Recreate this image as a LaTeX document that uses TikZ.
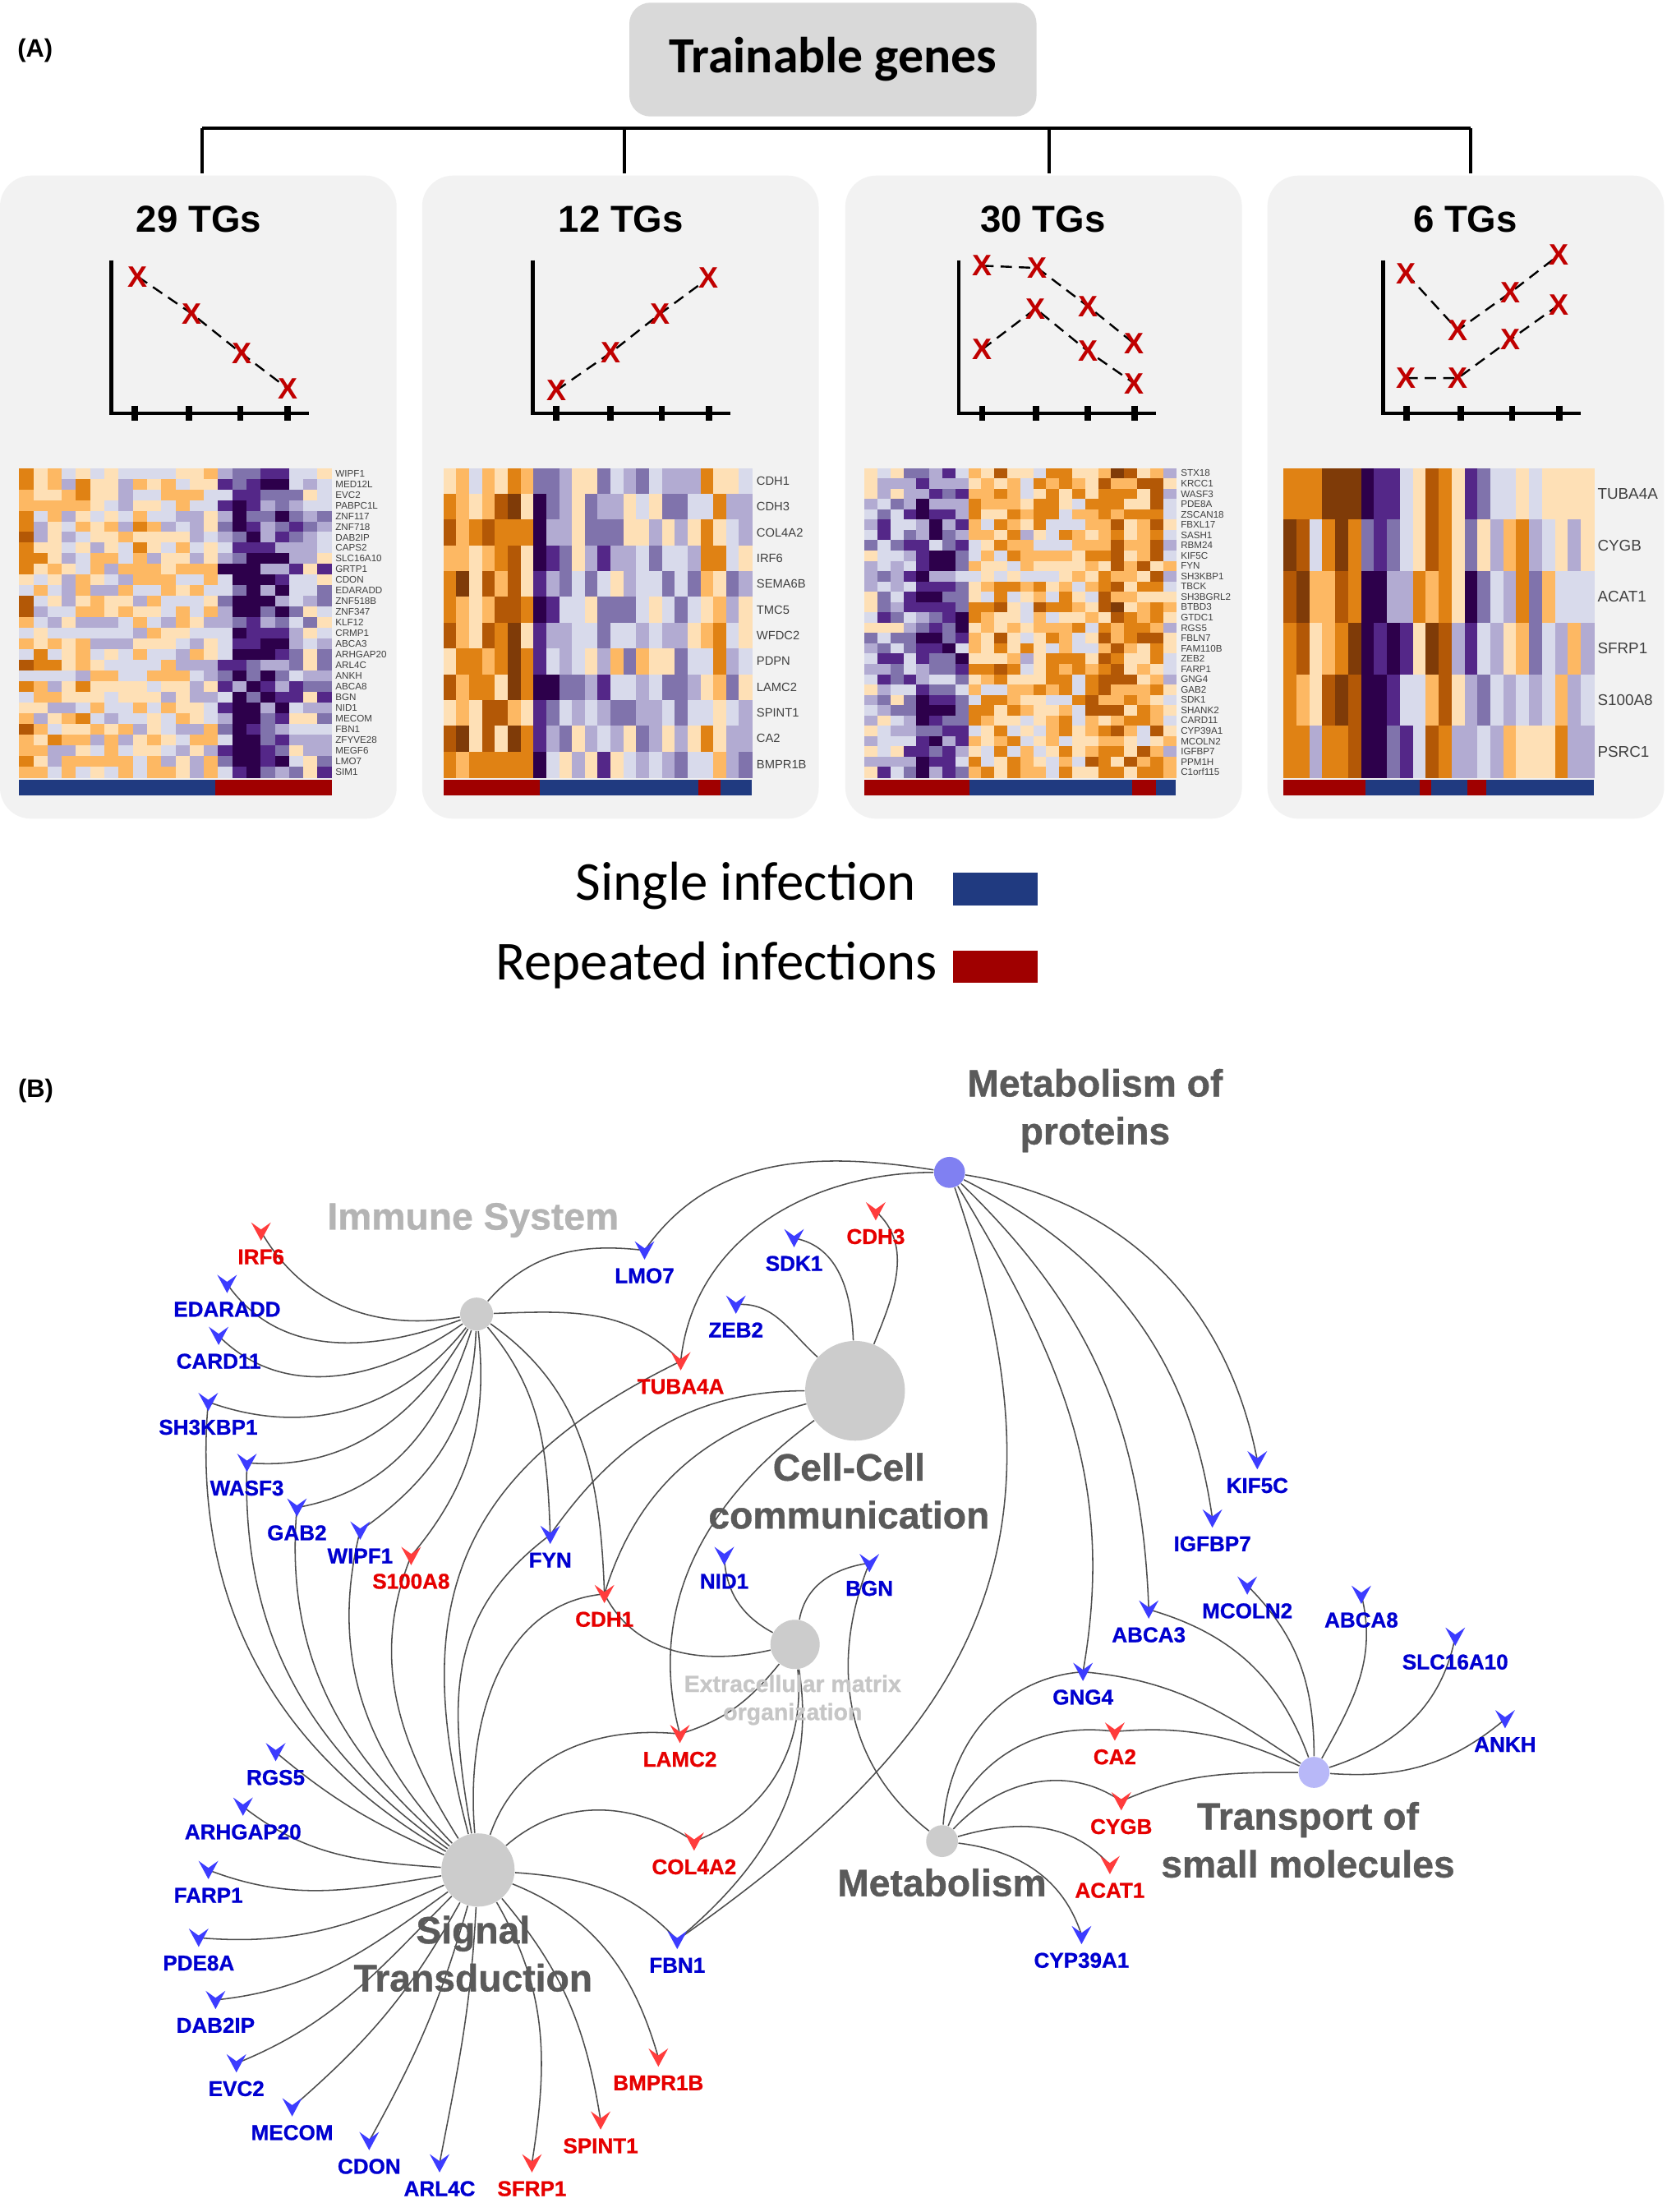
\documentclass[tikz,border=0pt]{standalone}
\usepackage{fontspec}
\setmainfont{Liberation Sans}
\newfontfamily\calfont{Carlito}
\newfontfamily\heavyfont{Liberation Sans}[BoldFeatures={FakeBold=0.8}]
\usetikzlibrary{calc}
\definecolor{hm0}{HTML}{2D004B}
\definecolor{hm1}{HTML}{542788}
\definecolor{hm2}{HTML}{8073AC}
\definecolor{hm3}{HTML}{B2ABD2}
\definecolor{hm4}{HTML}{D8DAEB}
\definecolor{hm5}{HTML}{FEE0B6}
\definecolor{hm6}{HTML}{FDB863}
\definecolor{hm7}{HTML}{E08214}
\definecolor{hm8}{HTML}{B35806}
\definecolor{hm9}{HTML}{7F3B08}
\definecolor{panelgrey}{HTML}{F2F2F2}
\definecolor{titlegrey}{HTML}{D9D9D9}
\definecolor{barblue}{HTML}{203A80}
\definecolor{barred}{HTML}{A00000}
\definecolor{xred}{HTML}{C00000}
\definecolor{hmtext}{HTML}{404040}
\definecolor{edgegrey}{HTML}{4D4D4D}
\definecolor{hubgrey}{HTML}{CCCCCC}
\definecolor{hubblue}{HTML}{8080F2}
\definecolor{hublblue}{HTML}{B8B8F8}
\definecolor{hubtext}{HTML}{5A5A5A}
\definecolor{hublight}{HTML}{B4B4B4}
\definecolor{ecmtext}{HTML}{C6C6C6}
\definecolor{chevb}{HTML}{3C3CFF}
\definecolor{chevr}{HTML}{FF3C3C}
\definecolor{gtb}{HTML}{0000D0}
\definecolor{gtr}{HTML}{E60000}

\tikzset{
  panelbg/.style={fill=panelgrey, rounded corners=11pt},
  titlebox/.style={fill=titlegrey, rounded corners=7.5pt, minimum width=144.6pt, minimum height=40.4pt, inner sep=0pt, font=\calfont\fontsize{18}{20}\selectfont\bfseries},
  plabel/.style={font=\fontsize{9}{10}\selectfont\bfseries, inner sep=0pt},
  bracket/.style={draw=black, line width=1.1pt},
  axisline/.style={draw=black, line width=1.4pt},
  tickm/.style={draw=black, line width=2.2pt},
  xm/.style={text=xred, font=\fontsize{10.5}{10.5}\selectfont\bfseries, inner sep=0pt},
  dline/.style={draw=black, line width=0.7pt, dash pattern=on 4pt off 2.5pt},
  tgtitle/.style={font=\fontsize{13.3}{14}\selectfont\bfseries, inner sep=0pt},
  hmlA/.style={font=\fontsize{3.4}{4}\selectfont, text=hmtext, inner sep=0pt, anchor=west},
  hmlB/.style={font=\fontsize{4.3}{5}\selectfont, text=hmtext, inner sep=0pt, anchor=west},
  hmlC/.style={font=\fontsize{5.5}{6}\selectfont, text=hmtext, inner sep=0pt, anchor=west},
  legtext/.style={font=\calfont\fontsize{19.5}{22}\selectfont, inner sep=0pt},
  legbox/.style={minimum width=30pt, minimum height=11.5pt, inner sep=0pt},
  hub/.style={circle, inner sep=0pt, draw=none},
  conn/.style={draw=edgegrey, line width=0.45pt},
  glabel/.style={font=\heavyfont\fontsize{7.6}{9}\selectfont\bfseries, inner sep=0pt},
  hubdark/.style={font=\heavyfont\fontsize{13.5}{17}\selectfont\bfseries, text=hubtext, align=center, inner sep=0pt},
  hubpale/.style={font=\heavyfont\fontsize{13.5}{15}\selectfont\bfseries, text=hublight, inner sep=0pt},
  ecmlabel/.style={font=\heavyfont\fontsize{8.3}{10}\selectfont\bfseries, text=ecmtext, align=center, inner sep=0pt}
}

\newcommand\hmap[7]{%
  \pgfmathsetseed{#6}%
  \foreach \rr in {1,...,#5}{%
    \foreach \bb [count=\cc from 0] in {#7}{%
      \pgfmathsetmacro\vv{\bb+0.38*rand}%
      \pgfmathtruncatemacro\kk{max(0,min(9,floor((\vv+1)*5)))}%
      \fill[hm\kk] ({#1+\cc*#3},{-(#2)-(\rr-1)*#4}) rectangle ++({#3+0.35},{-#4-0.35});%
    }%
  }%
}

\def\genelist{IRF6/185.4/874.6/r, EDARADD/161.3/911.8/b, CARD11/155.3/948.7/b,
 SH3KBP1/147.9/995.6/b, WASF3/175.4/1038.8/b, GAB2/210.9/1070.6/b, WIPF1/255.8/1087/b,
 S100A8/292/1105/r, FYN/390.8/1090/b, CDH1/429.3/1132/r, TUBA4A/483.5/966.7/r,
 LMO7/457.8/888/b, SDK1/564/879.3/b, ZEB2/522.7/926.5/b, CDH3/622/860.2/r,
 NID1/514.4/1105/b, BGN/617.5/1110/b, LAMC2/482.9/1231.4/r, COL4A2/493/1307.8/r,
 RGS5/195.8/1244.3/b, ARHGAP20/172.6/1283/b, FARP1/148/1328/b, PDE8A/141.1/1376.1/b,
 DAB2IP/153.1/1420.3/b, EVC2/167.9/1465.3/b, MECOM/207.5/1496.5/b, CDON/262.2/1520.5/b,
 ARL4C/312.2/1536.3/b, SFRP1/377.8/1536.3/r, SPINT1/426.6/1505.9/r, BMPR1B/467.6/1461.2/r,
 FBN1/481/1377.7/b, KIF5C/893/1037/b, IGFBP7/861.1/1078.4/b, ABCA3/815.9/1143/b,
 MCOLN2/885.9/1126/b, ABCA8/966.9/1132.5/b, GNG4/769.2/1187.3/b, CA2/791.8/1229.7/r,
 CYGB/796.4/1279.2/r, ACAT1/788.3/1324.5/r, SLC16A10/1033.6/1162.3/b, ANKH/1069/1220.9/b,
 CYP39A1/768.2/1374.2/b}

\begin{document}
\begin{tikzpicture}[x=0.5pt,y=0.5pt]
\useasboundingbox (0,0) rectangle (1184,-1570.9);
\fill[white] (0,0) rectangle (1184,-1570.9);

% ---------------- Panel A ----------------
\node[plabel] (labA) at (25,-36) {(A)};
\node[titlebox] (title) at (591.6,-42.3) {Trainable genes};

\foreach \px [count=\pi] in {0,299.8,600.4,900.2}{
  \fill[panelbg] (\px,-124.7) rectangle ++(281.7,-456.7);
}
\coordinate (b1) at (143.5,-91.2);
\coordinate (b4) at (1044.4,-91.2);
\foreach \bx [count=\bi] in {143.5,443.3,745.4,1044.4}{
  \coordinate (bt\bi) at (\bx,-91.2);
  \coordinate (bb\bi) at (\bx,-123);
  \draw[bracket] (bt\bi) -- (bb\bi);
}
\draw[bracket] (b1) -- (b4);

\node[tgtitle] (tg1) at (141.2,-155.6) {29 TGs};
\node[tgtitle] (tg2) at (441,-155.6) {12 TGs};
\node[tgtitle] (tg3) at (740.9,-155.6) {30 TGs};
\node[tgtitle] (tg4) at (1040.7,-155.6) {6 TGs};

% axes
\foreach \ax in {79.3,378.5,681,982.6}{
  \draw[axisline] (\ax,-184.8) -- (\ax,-293.5) -- (\ax+140,-293.5);
  \foreach \tx in {16.5,55,91.5,125}{
    \draw[tickm] (\ax+\tx,-288) -- (\ax+\tx,-298.5);
  }
}

% X marks (positions) and dashed lines
\coordinate (a1) at (97.9,-196.5);
\coordinate (a2) at (136.2,-222.7);
\coordinate (a3) at (171.6,-251);
\coordinate (a4) at (204.7,-276.2);
\coordinate (c1) at (395.3,-277.2);
\coordinate (c2) at (433.6,-250.6);
\coordinate (c3) at (469,-222.7);
\coordinate (c4) at (503.2,-197.5);
\coordinate (d1) at (697.7,-188.7);
\coordinate (d2) at (736.8,-190.3);
\coordinate (d3) at (772.7,-217.5);
\coordinate (d4) at (805.7,-244.1);
\coordinate (e1) at (697.7,-248);
\coordinate (e2) at (735.6,-219.2);
\coordinate (e3) at (772.7,-249.4);
\coordinate (e4) at (805.7,-272.3);
\coordinate (f1) at (999,-194.5);
\coordinate (f2) at (1035.5,-234.4);
\coordinate (f3) at (1072.7,-207.8);
\coordinate (f4) at (1107.5,-180.9);
\coordinate (g1) at (999,-268.5);
\coordinate (g2) at (1035.5,-268.5);
\coordinate (g3) at (1072.7,-241.2);
\coordinate (g4) at (1107.5,-216.3);
\foreach \s in {a,c,d,e,f,g}{
  \draw[dline] (\s1) -- (\s2) -- (\s3) -- (\s4);
}
\foreach \s in {a,c,d,e,f,g}{\foreach \k in {1,2,3,4}{\node[xm] (x\s\k) at (\s\k) {X};}}

% heatmaps
\hmap{13.6}{332.4}{10.09}{7.572}{29}{11}{0.25,0.12,0.05,0.02,0.1,-0.02,0.02,0.05,0.1,0.02,0.05,0.02,-0.03,0.02,-0.45,-0.75,-0.8,-0.6,-0.55,-0.3,-0.2,-0.3}
\hmap{315}{332.4}{9.125}{18.3}{12}{23}{0.4,0.55,0.35,0.5,0.45,0.6,0.4,-0.9,-0.45,-0.35,-0.2,-0.25,-0.4,-0.15,-0.2,-0.15,-0.1,-0.2,-0.3,-0.15,0.25,0.2,-0.1,-0.15}
\hmap{614}{332.4}{9.22}{7.32}{30}{37}{-0.2,-0.3,-0.25,-0.4,-0.6,-0.55,-0.5,-0.45,0.22,0.18,0.28,0.22,0.12,0.28,0.18,0.22,0.18,0.25,0.45,0.5,0.4,0.35,0.4,0.0}
\hmap{911.5}{332.4}{9.19}{36.6}{6}{41}{0.7,0.45,0.15,0.5,0.8,0.7,-0.85,-0.9,-0.7,-0.3,0.15,0.45,0.5,-0.15,-0.5,-0.2,-0.1,0.1,0.25,-0.2,-0.15,0.1,-0.15,-0.2}

% colour bars
\fill[barblue] (13.6,-553.5) rectangle (152.6,-564.6);
\fill[barred] (152.6,-553.5) rectangle (235.6,-564.6);
\fill[barred] (315,-553.5) rectangle (383.6,-564.6);
\fill[barblue] (383.6,-553.5) rectangle (496.2,-564.6);
\fill[barred] (496.2,-553.5) rectangle (512,-564.6);
\fill[barblue] (512,-553.5) rectangle (534,-564.6);
\fill[barred] (614,-553.5) rectangle (688.7,-564.6);
\fill[barblue] (688.7,-553.5) rectangle (804.3,-564.6);
\fill[barred] (804.3,-553.5) rectangle (821,-564.6);
\fill[barblue] (821,-553.5) rectangle (835.3,-564.6);
\fill[barred] (911.5,-553.5) rectangle (969.7,-564.6);
\fill[barblue] (969.7,-553.5) rectangle (1008.2,-564.6);
\fill[barred] (1008.2,-553.5) rectangle (1016.5,-564.6);
\fill[barblue] (1016.5,-553.5) rectangle (1042.2,-564.6);
\fill[barred] (1042.2,-553.5) rectangle (1055.8,-564.6);
\fill[barblue] (1055.8,-553.5) rectangle (1132,-564.6);

% heatmap row labels
\foreach \g [count=\i from 0] in {WIPF1,MED12L,EVC2,PABPC1L,ZNF117,ZNF718,DAB2IP,CAPS2,SLC16A10,GRTP1,CDON,EDARADD,ZNF518B,ZNF347,KLF12,CRMP1,ABCA3,ARHGAP20,ARL4C,ANKH,ABCA8,BGN,NID1,MECOM,FBN1,ZFYVE28,MEGF6,LMO7,SIM1}{
  \node[hmlA] (hA\i) at (237.9,{-332.4-7.572*(\i+0.5)}) {\g};
}
\foreach \g [count=\i from 0] in {CDH1,CDH3,COL4A2,IRF6,SEMA6B,TMC5,WFDC2,PDPN,LAMC2,SPINT1,CA2,BMPR1B}{
  \node[hmlB] (hB\i) at (537,{-332.4-18.3*(\i+0.5)}) {\g};
}
\foreach \g [count=\i from 0] in {STX18,KRCC1,WASF3,PDE8A,ZSCAN18,FBXL17,SASH1,RBM24,KIF5C,FYN,SH3KBP1,TBCK,SH3BGRL2,BTBD3,GTDC1,RGS5,FBLN7,FAM110B,ZEB2,FARP1,GNG4,GAB2,SDK1,SHANK2,CARD11,CYP39A1,MCOLN2,IGFBP7,PPM1H,C1orf115}{
  \node[hmlA] (hC\i) at (838.3,{-332.4-7.32*(\i+0.5)}) {\g};
}
\foreach \g [count=\i from 0] in {TUBA4A,CYGB,ACAT1,SFRP1,S100A8,PSRC1}{
  \node[hmlC] (hD\i) at (1134.3,{-332.4-36.6*(\i+0.5)}) {\g};
}

% legend
\node[legtext, anchor=base east] (lsingle) at (651,-639) {Single infection};
\node[legbox, fill=barblue] (lbblue) at (707,-631.5) {};
\node[legtext, anchor=base east] (lrep) at (666,-696) {Repeated infections};
\node[legbox, fill=barred] (lbred) at (707,-686.5) {};

% ---------------- Panel B ----------------
\node[plabel] (labB) at (25.4,-774.4) {(B)};

% hubs
\node[hub, fill=hubgrey, minimum size=11.7pt] (nI) at (338.5,-933.2) {};
\node[hub, fill=hubgrey, minimum size=35.4pt] (nC) at (607.3,-987.7) {};
\node[hub, fill=hubgrey, minimum size=17.5pt] (nE) at (564.7,-1167.8) {};
\node[hub, fill=hubgrey, minimum size=26pt] (nS) at (339.5,-1328) {};
\node[hub, fill=hubgrey, minimum size=11.3pt] (nM) at (669.1,-1307.5) {};
\node[hub, fill=hubblue, minimum size=11pt] (nP) at (674.4,-832.6) {};
\node[hub, fill=hublblue, minimum size=11pt] (nT) at (933.3,-1258.7) {};

% gene coordinates
\foreach \gn/\gx/\gy/\gc in \genelist { \coordinate (\gn) at (\gx,-\gy); }

% connectors
\foreach \hh/\gg/\oo/\ii/\ll in {
 I/IRF6/190/-60/1, I/EDARADD/200/-55/1, I/CARD11/215/-45/1, I/SH3KBP1/232/-20/1,
 I/WASF3/240/-5/1, I/GAB2/252/10/1, I/WIPF1/268/35/1, I/S100A8/276/50/1,
 I/FYN/-50/92/1, I/CDH1/-35/92/1, I/TUBA4A/2/134/1, I/LMO7/49/173/1,
 C/ZEB2/138/5/1, C/SDK1/92/-10/1, C/CDH3/68/-42/1, C/FYN/180/55/1, C/CDH1/195/73/1, C/LAMC2/216/105/1,
 E/NID1/152/-88/1, E/BGN/80/188/1, E/CDH1/193/-63/1, E/LAMC2/231/17/1, E/COL4A2/-84/21/1, E/FBN1/-81/40/1,
 P/LMO7/171/55/1, P/TUBA4A/180/84/1, P/KIF5C/-9/101/1, P/IGFBP7/-27/98/1, P/ABCA3/-44/92/1,
 P/GNG4/-59/80/1, P/FBN1/-71/35/1.2,
 M/BGN/142/248/1, M/GNG4/86/184/1, M/CA2/68/172/1, M/CYGB/47/145/1, M/ACAT1/16/132/1, M/CYP39A1/-7/108/1,
 T/GNG4/146/-5/1, T/CA2/156/5/1, T/CYGB/180/24/1, T/ABCA3/110/-16/1, T/MCOLN2/90/-45/1,
 T/ABCA8/61/-76/1, T/SLC16A10/18/-101/1, T/ANKH/-4/220/1,
 S/RGS5/156/-40/1, S/ARHGAP20/176/-38/1, S/FARP1/189/-21/1, S/PDE8A/204/-5/1, S/DAB2IP/216/6/1,
 S/EVC2/225/22/1, S/MECOM/241/41/1, S/CDON/254/61/1, S/ARL4C/267/79/1, S/SFRP1/-60/81/1,
 S/SPINT1/-50/99/1, S/BMPR1B/-22/106/1, S/FBN1/-4/133/1, S/COL4A2/41/146/1, S/LAMC2/71/174/1,
 S/CDH1/95/185/1, S/TUBA4A/105/206/1.2, S/FYN/100/217/1.1, S/S100A8/122/248/1, S/WIPF1/134/256/1,
 S/GAB2/140/265/1, S/WASF3/145/268/1, S/SH3KBP1/150/265/1}{
  \draw[conn] (n\hh) to[out=\oo,in=\ii,looseness=\ll] (\gg);
}

% gene chevrons and labels
\foreach \gn/\gx/\gy/\gc in \genelist {
  \fill[chev\gc] (\gx-7,-\gy+6.5) -- (\gx,-\gy+1.5) -- (\gx+7,-\gy+6.5) -- (\gx,-\gy-6.5) -- cycle;
  \node[glabel, text=gt\gc] (gl\gn) at (\gx,-\gy-18) {\gn};
}

% hub labels
\node[hubpale] (lI) at (336,-866.6) {Immune System};
\node[hubdark] (lC) at (603,-1058.8) {Cell-Cell\\communication};
\node[hubdark] (lS) at (336,-1387.5) {Signal\\Transduction};
\node[hubdark] (lM) at (669,-1336.9) {Metabolism};
\node[hubdark] (lT) at (929,-1306.6) {Transport of\\small molecules};
\node[hubdark] (lP) at (777.8,-788.7) {Metabolism of\\proteins};
\node[ecmlabel] (lE) at (563,-1207.3) {Extracellular matrix\\organization};

\end{tikzpicture}
\end{document}
